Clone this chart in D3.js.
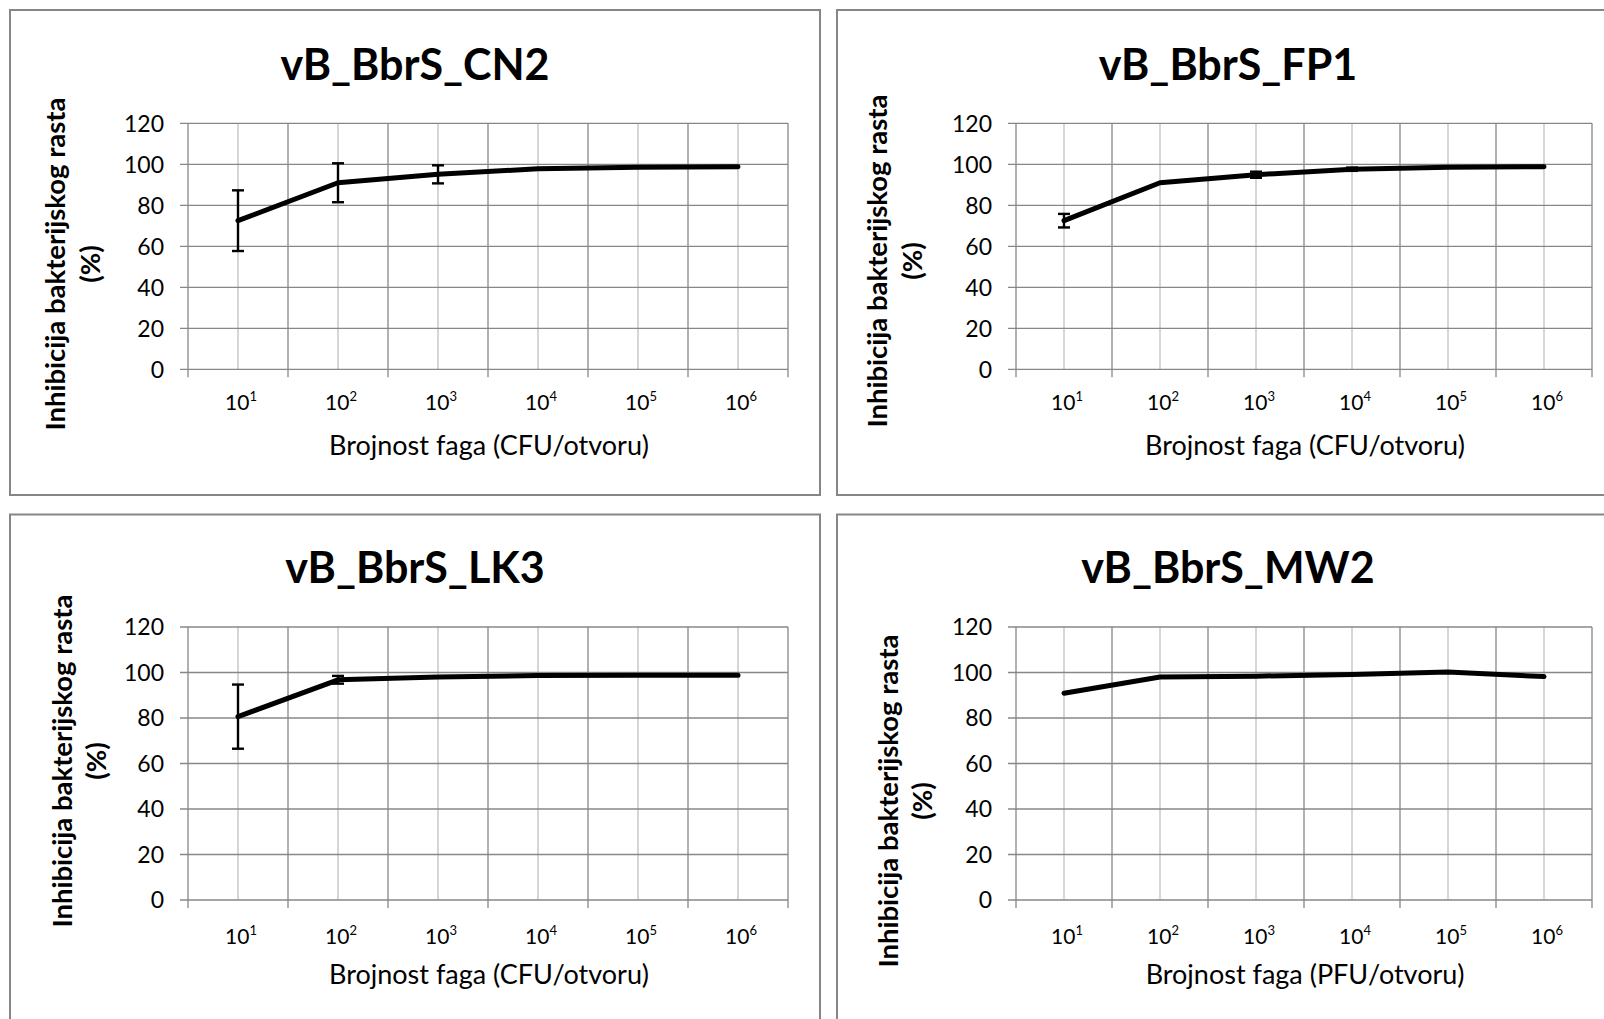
<!DOCTYPE html>
<html><head><meta charset="utf-8">
<script src="https://cdn.jsdelivr.net/npm/d3@7"></script>
<style>
body{margin:0;background:#fff;}
svg{display:block;}
text{font-family:Lato,'Open Sans',sans-serif;fill:#000;}
</style>
</head><body>
<svg id="c" width="1604" height="1019"></svg>
<script>
// ---- data ----
const exponents = [1, 2, 3, 4, 5, 6];
const yTicks = [0, 20, 40, 60, 80, 100, 120];
const panelTitles = ["vB_BbrS_CN2", "vB_BbrS_FP1", "vB_BbrS_LK3", "vB_BbrS_MW2"];
const xTitles = ["Brojnost faga (CFU/otvoru)", "Brojnost faga (CFU/otvoru)", "Brojnost faga (CFU/otvoru)", "Brojnost faga (PFU/otvoru)"];
const yTitleLine1 = "Inhibicija bakterijskog rasta";
const yTitleLine2 = "(%)";
const cn2Values = [72.5, 91.0, 95.1, 97.8, 98.6, 98.8];
const cn2Errors = [14.8, 9.5, 4.4, 0, 0, 0];
const fp1Values = [72.5, 91.0, 94.9, 97.6, 98.6, 98.8];
const fp1Errors = [3.3, 0, 1.5, 0.8, 0, 0];
const lk3Values = [80.6, 96.8, 98.0, 98.7, 98.8, 98.8];
const lk3Errors = [14.1, 1.7, 0, 0, 0, 0];
const mw2Values = [90.9, 98.0, 98.4, 99.1, 100.2, 98.2];
const mw2Errors = [0, 0, 0, 0, 0, 0];
const seriesValues = [cn2Values, fp1Values, lk3Values, mw2Values];
const seriesErrors = [cn2Errors, fp1Errors, lk3Errors, mw2Errors];

// ---- layout ----
const layouts = [
  {bx:10, by:10, bw:810, bh:485, x0:188, x1:788, yT:123.3, yB:369.3, tcx:415, tby:80, tickBY:410, xlBY:455, ylX1:65, ylX2:100, ylCY:264},
  {bx:837, by:10, bw:800, bh:485, x0:1016, x1:1592, yT:123.3, yB:369.3, tcx:1228, tby:80, tickBY:410, xlBY:455, ylX1:887, ylX2:922, ylCY:261},
  {bx:10, by:514.5, bw:810, bh:520, x0:188, x1:788, yT:627, yB:900, tcx:415, tby:583, tickBY:944, xlBY:984, ylX1:72, ylX2:106, ylCY:761},
  {bx:837, by:514.5, bw:800, bh:520, x0:1016, x1:1592, yT:627, yB:900, tcx:1228, tby:583, tickBY:944, xlBY:984, ylX1:898, ylX2:932, ylCY:801}
];

const svg = d3.select("#c");
svg.append("rect").attr("width",1604).attr("height",1019).attr("fill","#fff");

layouts.forEach((L, i) => {
  const g = svg.append("g");
  g.append("rect").attr("x",L.bx).attr("y",L.by).attr("width",L.bw).attr("height",L.bh)
    .attr("fill","#fff").attr("stroke","#868686").attr("stroke-width",2);

  const x = d3.scaleBand().domain(exponents).range([L.x0, L.x1]).padding(0);
  const y = d3.scaleLinear().domain([0, 120]).range([L.yB, L.yT]);
  const cx = e => x(e) + x.bandwidth() / 2;

  // minor vertical gridlines at category centres
  g.selectAll(".vminor").data(exponents).join("line")
    .attr("x1", cx).attr("x2", cx).attr("y1", L.yT).attr("y2", L.yB)
    .attr("stroke","#c0c0c0").attr("stroke-width",1.3);
  // major vertical gridlines at category boundaries (with ticks below axis)
  const bounds = exponents.map(e => x(e)).concat([x.range()[1]]);
  g.selectAll(".vmajor").data(bounds).join("line")
    .attr("x1", d => d).attr("x2", d => d).attr("y1", L.yT).attr("y2", L.yB + 8)
    .attr("stroke","#878787").attr("stroke-width",1.3);
  // horizontal gridlines with ticks left of axis
  g.selectAll(".hgrid").data(yTicks).join("line")
    .attr("x1", L.x0 - 8).attr("x2", L.x1).attr("y1", d => y(d)).attr("y2", d => y(d))
    .attr("stroke","#878787").attr("stroke-width",1.3);

  // y tick labels
  g.selectAll(".ylab").data(yTicks).join("text")
    .attr("x", L.x0 - 24).attr("y", d => y(d)).attr("dy","0.36em")
    .attr("text-anchor","end").attr("font-size",23).attr("fill","#1a1a1a").text(d => d);

  // x tick labels 10^n
  g.selectAll(".xlab").data(exponents).join("text")
    .attr("x", d => cx(d) + 3).attr("y", L.tickBY)
    .attr("text-anchor","middle").attr("font-size",21).attr("fill","#1a1a1a")
    .each(function(d){
      const t = d3.select(this);
      t.append("tspan").text("10");
      t.append("tspan").attr("dy",-9).attr("font-size",13).text(d);
    });

  // title
  g.append("text").attr("x", L.tcx).attr("y", L.tby).attr("text-anchor","middle")
    .attr("font-size",43).attr("font-weight",700).text(panelTitles[i]);

  // x axis title
  g.append("text").attr("x", (L.x0 + L.x1) / 2 + 1).attr("y", L.xlBY).attr("text-anchor","middle")
    .attr("font-size",27).text(xTitles[i]);

  // y axis title (two lines)
  g.append("text").attr("transform", `translate(${L.ylX1},${L.ylCY}) rotate(-90)`)
    .attr("text-anchor","middle").attr("font-size",27.5).attr("font-weight",700).text(yTitleLine1);
  g.append("text").attr("transform", `translate(${L.ylX2},${L.ylCY}) rotate(-90)`)
    .attr("text-anchor","middle").attr("font-size",27.5).attr("font-weight",700).text(yTitleLine2);

  // data line
  const vals = seriesValues[i];
  const errs = seriesErrors[i];
  const pts = exponents.map((e, k) => ({e, v: vals[k], err: errs[k]}));
  const line = d3.line().x(d => cx(d.e)).y(d => y(d.v));
  g.append("path").datum(pts).attr("d", line).attr("fill","none")
    .attr("stroke","#000").attr("stroke-width",5).attr("stroke-linejoin","round").attr("stroke-linecap","round");

  // error bars
  const eb = pts.filter(d => d.err > 0);
  g.selectAll(".ebv").data(eb).join("line")
    .attr("x1", d => cx(d.e)).attr("x2", d => cx(d.e))
    .attr("y1", d => y(d.v + d.err)).attr("y2", d => y(d.v - d.err))
    .attr("stroke","#000").attr("stroke-width",2.4);
  ["top","bot"].forEach(side => {
    g.selectAll(".ebc" + side).data(eb).join("line")
      .attr("x1", d => cx(d.e) - 6).attr("x2", d => cx(d.e) + 6)
      .attr("y1", d => y(side === "top" ? d.v + d.err : d.v - d.err))
      .attr("y2", d => y(side === "top" ? d.v + d.err : d.v - d.err))
      .attr("stroke","#000").attr("stroke-width",2.4);
  });
});
</script>
</body></html>
